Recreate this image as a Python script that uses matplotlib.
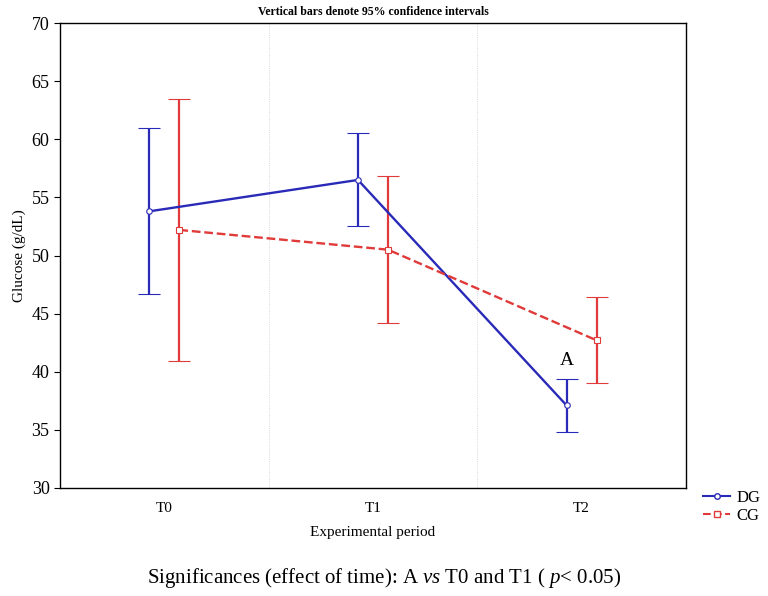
import matplotlib
matplotlib.use("Agg")
import matplotlib.pyplot as plt
from matplotlib.lines import Line2D
import numpy as np

periods = ["T0", "T1", "T2"]
dg_mean = [53.8, 56.5, 37.1]
dg_low = [46.7, 52.5, 34.8]
dg_high = [61.0, 60.5, 39.4]
cg_mean = [52.2, 50.5, 42.7]
cg_low = [40.9, 44.2, 39.0]
cg_high = [63.5, 56.8, 46.4]

BLUE = "#2a2ab8"
RED = "#e03a3a"

plt.rcParams["font.family"] = ["Liberation Serif", "DejaVu Serif"]
plt.rcParams["mathtext.fontset"] = "custom"
plt.rcParams["mathtext.rm"] = "Liberation Serif"
plt.rcParams["mathtext.it"] = "Liberation Serif:italic"

fig = plt.figure(figsize=(7.68, 5.96), dpi=100)
ax = fig.add_axes([60 / 768, 1 - 488 / 596, 626 / 768, 465 / 596])

x = np.arange(len(periods))
off = 0.072

def draw(xs, mean, low, high, color, ls, marker):
    mean = np.array(mean)
    yerr = [mean - np.array(low), np.array(high) - mean]
    ax.errorbar(xs, mean, yerr=yerr, color=color, ls=ls, lw=1.7,
                marker=marker, ms=4, mfc="white", mec=color, mew=0.8,
                capsize=8, capthick=1.8, elinewidth=1.6)

draw(x - off, dg_mean, dg_low, dg_high, BLUE, "-", "o")
draw(x + off, cg_mean, cg_low, cg_high, RED, "--", "s")

for b in [0.5, 1.5]:
    ax.axvline(b, color="#cccccc", lw=0.6, ls=":")

ax.text(2 - off, 40.2, "A", ha="center", va="bottom", fontsize=14)

ax.set_xlim(-0.5, 2.5)
ax.set_ylim(30, 70)
ax.set_yticks(range(30, 71, 5))
ax.set_xticks(x)
ax.set_xticklabels(periods)
ax.tick_params(axis="y", labelsize=13, direction="out", length=4)
ax.tick_params(axis="x", labelsize=11, length=0, pad=10)
for s in ax.spines.values():
    s.set_linewidth(1.0)

ax.set_ylabel("Glucose (g/dL)", fontsize=11)
ax.set_xlabel("Experimental period", fontsize=11, labelpad=8)
ax.set_title("Vertical bars denote 95% confidence intervals",
             fontsize=8.5, fontweight="bold", pad=6)

handles = [
    Line2D([], [], color=BLUE, ls="-", marker="o", mfc="white", ms=4),
    Line2D([], [], color=RED, ls="--", marker="s", mfc="white", ms=4),
]
fig.legend(handles, ["DG", "CG"], loc="lower left",
           bbox_to_anchor=(695 / 768, 1 - 532 / 596), frameon=False,
           fontsize=12, handlelength=1.6, handletextpad=0.4,
           labelspacing=0.1, borderpad=0)

fig.text(0.5, 1 - 578 / 596,
         "Significances (effect of time): A $\\it{vs}$ T0 and T1 ( $\\it{p}$< 0.05)",
         ha="center", va="center", fontsize=15)

fig.savefig("out.png", dpi=100)
